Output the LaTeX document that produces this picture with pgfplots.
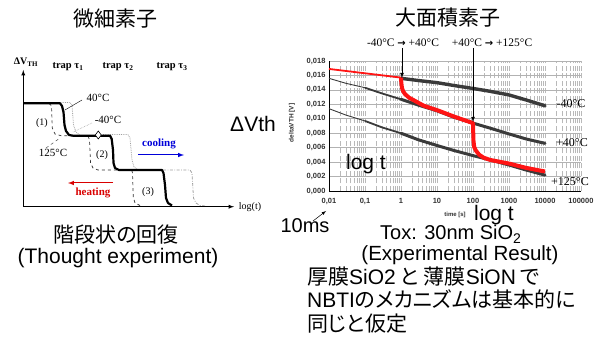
\documentclass[border=0pt]{standalone}
\usepackage{pgfplots}
\pgfplotsset{compat=1.18}
\usepackage{fontspec}
\setmainfont{Liberation Sans}
\newfontfamily\tms{Liberation Serif}
\newfontfamily\jp{Noto Sans CJK JP}
\newfontfamily\jpp[RawFeature=+palt]{Noto Sans CJK JP}
\newfontfamily\dv{DejaVu Sans}
\definecolor{curvegray}{HTML}{3A3A3A}
\definecolor{redc}{HTML}{FF1414}
\begin{document}
\begin{tikzpicture}
\path[use as bounding box] (0,0) rectangle (606pt,342pt);
% ---------------- right: measured recovery (log time) ----------------
\begin{axis}[
  at={(329pt,151pt)}, anchor=south west,
  scale only axis, width=252pt, height=130pt,
  xmode=log, xmin=0.01, xmax=100000,
  ymin=0, ymax=0.018,
  axis x line*=bottom, axis y line*=left,
  axis line style={black, line width=0.8pt},
  xtick={0.01,0.1,1,10,100,1000,10000,100000},
  xticklabels={{0,01},{0,1},1,10,100,1000,10000,100000},
  minor xtick={0.02,0.03,0.04,0.05,0.06,0.07,0.08,0.09,
    0.2,0.3,0.4,0.5,0.6,0.7,0.8,0.9,2,3,4,5,6,7,8,9,
    20,30,40,50,60,70,80,90,200,300,400,500,600,700,800,900,
    2000,3000,4000,5000,6000,7000,8000,9000,
    20000,30000,40000,50000,60000,70000,80000,90000},
  ytick={0,0.002,...,0.018},
  major tick length=0pt, minor tick length=0pt,
  xmajorgrids, xminorgrids, ymajorgrids,
  x grid style={gray!55, line width=0.5pt, dash pattern=on 5pt off 2.5pt},
  y grid style={gray!60, line width=0.6pt},
  yticklabel style={/pgf/number format/.cd, fixed, fixed zerofill, precision=3, use comma, assume math mode=true},
  xticklabel style={yshift=-4pt},
  ticklabel style={font=\bfseries\fontsize{7.5}{8}\selectfont, text=black!80},
  scaled y ticks=false,
  clip=false,
]
% -40 C (black, after 1 s)
\addplot[curvegray, line width=3.4pt, line cap=round] coordinates {
 (1,0.0156) (3,0.0153) (10,0.0150) (30,0.0146) (100,0.0142) (300,0.0138)
 (1000,0.0133) (3000,0.0126) (10000,0.0118)};
% +40 C
\addplot[curvegray, line width=0.9pt] coordinates {
 (0.01,0.0156) (0.03,0.0149) (0.1,0.0143)};
\addplot[curvegray, line width=1.8pt] coordinates {
 (0.1,0.0143) (0.3,0.0135) (1,0.0127)};
\addplot[curvegray, line width=3.0pt, line cap=round] coordinates {
 (1,0.0127) (3,0.0119) (10,0.0111) (30,0.0102) (100,0.0094) (300,0.0087)
 (1000,0.0079) (3000,0.0072) (10000,0.0066)};
% +125 C
\addplot[curvegray, line width=0.9pt] coordinates {
 (0.01,0.0114) (0.03,0.0105) (0.1,0.0097)};
\addplot[curvegray, line width=1.8pt] coordinates {
 (0.1,0.0097) (0.3,0.0088) (1,0.0080)};
\addplot[curvegray, line width=3.0pt, line cap=round] coordinates {
 (1,0.0080) (3,0.0071) (10,0.0063) (30,0.0056) (100,0.0049) (300,0.0043)
 (1000,0.0036) (3000,0.0029) (10000,0.0022)};
% red: temperature-step experiment
\addplot[redc, line width=1.8pt] coordinates {
 (0.01,0.0169) (0.1,0.0163) (1,0.0157)};
\addplot[redc, line width=4pt, line join=round] coordinates {
 (1,0.0157) (1.02,0.0150) (1.06,0.0143) (1.15,0.0138) (1.3,0.0134) (1.7,0.0129)
 (2.2,0.0126) (4.3,0.0118) (10,0.0112) (30,0.0103) (100,0.0094)
 (101,0.0085) (103,0.0070) (108,0.0061) (120,0.0056) (150,0.0050) (200,0.0046)
 (300,0.0043) (1000,0.0038) (3000,0.0032) (10000,0.0027)};
\end{axis}
% ---------------- overlay in pixel coordinates ----------------
\begin{axis}[
  at={(0pt,0pt)}, anchor=south west,
  scale only axis, width=606pt, height=342pt,
  xmin=0, xmax=606, ymin=0, ymax=342, y dir=reverse,
  hide axis, clip=false,
]
% schematic: -40 C (dotted gray)
\addplot[gray!75, densely dotted, line width=0.8pt] coordinates {
 (58,102.5) (70,102.5) (72,105) (73.5,125) (76,132) (80,135.5) (110,135.5)};
\addplot[gray!75, densely dotted, line width=0.8pt] coordinates {
 (103,134.5) (128,134.5) (130,138) (132,160) (134,167) (138,170) (163,170)};
\addplot[gray!75, dash pattern=on 3pt off 1.5pt on 0.8pt off 1.5pt, line width=0.8pt] coordinates {
 (163,170) (190,170) (192,173) (193.5,198) (196,203) (200,205.5) (205,206)};
% schematic: 125 C (dashed)
\addplot[black!80, dashed, line width=0.7pt] coordinates {
 (49,103.3) (51.5,106) (52.3,128) (55,134) (61,135.7) (88,135.7)
 (89.5,140) (90.5,163) (93,168) (98,170) (131.7,170)
 (132.5,173) (133.3,197) (135,203) (140,205.5)};
% schematic: 40 C (thick)
\addplot[black, line width=2.2pt, line join=round] coordinates {
 (23.3,103.3) (60,103.3) (62,106) (63.5,112) (64.5,125) (66,131) (69,135) (73,135.7)
 (110,135.7) (111.7,139) (113,150) (113.5,163) (115,168) (119,170)
 (162,170) (163.5,173) (165,185) (166,198) (168,203) (172,205.5)};
% diamond marker
\addplot[only marks, mark=diamond*, mark size=4pt, mark options={fill=white, draw=black, line width=0.6pt}]
 coordinates {(98.3,135)};
% leader lines
\draw[black, line width=0.4pt] (axis cs:82,100) -- (axis cs:65,110);
\draw[gray!70, densely dotted, line width=0.6pt] (axis cs:92,123) -- (axis cs:73,132);
\draw[black!70, dashed, line width=0.5pt] (axis cs:46,148) -- (axis cs:60,138);
% schematic axes
\draw[-latex, line width=0.9pt] (axis cs:23.3,206.7) -- (axis cs:23.3,70);
\draw[-latex, line width=0.9pt] (axis cs:23.3,206.7) -- (axis cs:234,206.7);
% cooling / heating arrows
\draw[-latex, blue!85!black, line width=1pt] (axis cs:138,155) -- (axis cs:184,155);
\draw[-latex, red!85!black, line width=1pt] (axis cs:113,183) -- (axis cs:68,183);
% schematic labels
\node[font=\tms\bfseries\fontsize{10}{10}\selectfont] at (axis cs:26,62) {ΔV\textsubscript{TH}};
\node[font=\tms\bfseries\fontsize{10.5}{10.5}\selectfont] at (axis cs:68,67) {trap τ\textsubscript{1}};
\node[font=\tms\bfseries\fontsize{10.5}{10.5}\selectfont] at (axis cs:118,67) {trap τ\textsubscript{2}};
\node[font=\tms\bfseries\fontsize{10.5}{10.5}\selectfont] at (axis cs:172,67) {trap τ\textsubscript{3}};
\node[font=\tms\fontsize{11}{11}\selectfont] at (axis cs:98,98) {40°C};
\node[font=\tms\fontsize{11}{11}\selectfont] at (axis cs:108,120) {-40°C};
\node[font=\tms\fontsize{11}{11}\selectfont] at (axis cs:53,153) {125°C};
\node[font=\tms\fontsize{10}{10}\selectfont] at (axis cs:42,123) {(1)};
\node[font=\tms\fontsize{10}{10}\selectfont] at (axis cs:102,155) {(2)};
\node[font=\tms\fontsize{10}{10}\selectfont] at (axis cs:148,192) {(3)};
\node[font=\tms\bfseries\fontsize{11}{11}\selectfont, text=blue!85!black] at (axis cs:159,144) {cooling};
\node[font=\tms\bfseries\fontsize{11}{11}\selectfont, text=red!85!black] at (axis cs:93,193) {heating};
\node[font=\tms\fontsize{10}{10}\selectfont] at (axis cs:250,207) {log(t)};
% titles
\node[font=\jp\fontsize{21}{21}\selectfont] at (axis cs:116,19) {微細素子};
\node[font=\jp\fontsize{21}{21}\selectfont] at (axis cs:448,18) {大面積素子};
% left captions
\node[font=\jp\fontsize{21}{21}\selectfont] at (axis cs:116,235) {階段状の回復};
\node[font=\fontsize{21}{21}\selectfont] at (axis cs:118,258) {(Thought experiment)};
% right plot annotations
\node[font=\tms\fontsize{11.5}{11.5}\selectfont] at (axis cs:403,43) {-40°C {\dv\fontsize{10}{10}\selectfont\bfseries →} +40°C};
\node[font=\tms\fontsize{11.5}{11.5}\selectfont] at (axis cs:492,43) {+40°C {\dv\fontsize{10}{10}\selectfont\bfseries →} +125°C};
\draw[-latex, line width=0.8pt] (axis cs:402,48) -- (axis cs:402,78);
\draw[-latex, line width=0.8pt] (axis cs:473,48) -- (axis cs:473,122);
\node[font=\tms\fontsize{12}{12}\selectfont] at (axis cs:571,104) {-40°C};
\node[font=\tms\fontsize{12}{12}\selectfont] at (axis cs:572,143) {+40°C};
\node[font=\tms\fontsize{12}{12}\selectfont] at (axis cs:570,182) {+125°C};
\node[font=\bfseries\fontsize{6}{6}\selectfont, text=black!80, anchor=base] at (axis cs:455,217) {time [s]};
\node[font=\bfseries\fontsize{6.5}{6.5}\selectfont, text=black!80, rotate=90] at (axis cs:292,123) {deltaVTH [V]};
% overlay big texts
\node[font=\fontsize{21}{21}\selectfont, anchor=base] at (axis cs:253,132) {ΔVth};
\node[font=\fontsize{21}{21}\selectfont, anchor=base] at (axis cs:366,170) {log t};
\node[font=\fontsize{21}{21}\selectfont, anchor=base] at (axis cs:494,221) {log t};
\node[font=\fontsize{20}{20}\selectfont, anchor=base] at (axis cs:305,233) {10ms};
\draw[-latex, line width=0.5pt] (axis cs:313,221) -- (axis cs:326,211);
\node[font=\fontsize{20}{20}\selectfont, anchor=base west, inner sep=0pt] at (axis cs:380,240) {Tox: 30nm SiO\textsubscript{2}};
\node[font=\fontsize{20.5}{20.5}\selectfont, anchor=base] at (axis cs:460,261) {(Experimental Result)};
\node[font=\jpp\fontsize{21}{21}\selectfont, anchor=base west, inner sep=0pt] at (axis cs:307,284) {厚膜{\normalfont SiO2} と 薄膜{\normalfont SiON} で};
\node[font=\jpp\fontsize{21}{21}\selectfont, anchor=base west, inner sep=0pt] at (axis cs:307,308) {{\normalfont NBTI}のメカニズムは基本的に};
\node[font=\jpp\fontsize{21}{21}\selectfont, anchor=base west, inner sep=0pt] at (axis cs:307,331) {同じと仮定};
\end{axis}
\end{tikzpicture}
\end{document}
